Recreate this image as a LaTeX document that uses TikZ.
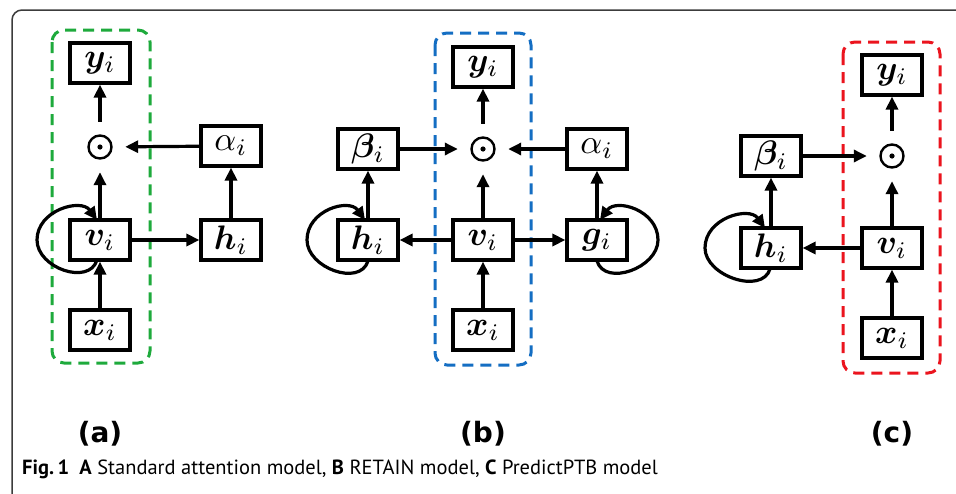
\documentclass[tikz,border=0pt]{standalone}
\usepackage{amsmath,bm,graphicx}
\usepackage{fontspec}
\newfontfamily\labfont{DejaVu Sans}
\newfontfamily\capfont{PT Sans}
\usetikzlibrary{arrows.meta,calc}
\definecolor{grpgreen}{RGB}{30,170,60}
\definecolor{grpblue}{RGB}{20,110,195}
\definecolor{grpred}{RGB}{235,20,30}
\definecolor{framegray}{RGB}{60,60,60}
\newcommand{\mlab}[1]{\scalebox{3.4}{$#1$}}
\begin{document}
\begin{tikzpicture}[x=1pt,y=-1pt,
 box/.style={draw,line width=3.2pt,minimum width=60pt,minimum height=40pt,inner sep=0pt},
 odot/.style={circle,minimum size=50pt,inner sep=0pt,path picture={\draw[line width=2.4pt](path picture bounding box.center) circle (11.5pt); \fill (path picture bounding box.center) circle (2.6pt);}},
 arr/.style={line width=3.2pt,-{Triangle[length=13pt,width=12pt]}},
 grp/.style={line width=3pt,dash pattern=on 11pt off 7pt,rounded corners=12pt},
 lab/.style={font=\labfont\bfseries\fontsize{28}{32}\selectfont},
]
\useasboundingbox (0,0) rectangle (956,493);
\fill[white] (0,0) rectangle (956,493);
% frame
\draw[framegray,line width=1.5pt,rounded corners=10pt] (958,10) -- (12,10) -- (12,495);

% ---------- (a) ----------
\draw[grp,grpgreen] (52,30) rectangle (150,363);
\node[box] (ya) at (100,63) {\mlab{\boldsymbol{y}_i}};
\node[odot] (oa) at (100,147) {};
\node[box] (aa) at (231,146) {\mlab{\alpha_i}};
\node[box] (va) at (100,240) {\mlab{\boldsymbol{v}_i}};
\node[box] (ha) at (231,240) {\mlab{\boldsymbol{h}_i}};
\node[box] (xa) at (100,330) {\mlab{\boldsymbol{x}_i}};
\draw[arr] (xa) -- (va);
\draw[arr] (va) -- (oa);
\draw[arr] (oa) -- (ya);
\draw[arr] (va) -- (ha);
\draw[arr] (ha) -- (aa);
\draw[arr] (aa) -- (oa);
\draw[arr] ($(va)+(-3,20)$) .. controls +(-8,26) and +(0,28) .. ($(va)+(-63,0)$)
  .. controls +(0,-30) and +(-16,-22) .. ($(va)+(-3,-20)$);

% ---------- (b) ----------
\draw[grp,grpblue] (435,33) rectangle (531,365);
\node[box] (yb) at (483,67) {\mlab{\boldsymbol{y}_i}};
\node[odot] (ob) at (483,149) {};
\node[box] (bb) at (368,149) {\mlab{\boldsymbol{\beta}_i}};
\node[box] (ab) at (597,149) {\mlab{\alpha_i}};
\node[box] (hb) at (368,240) {\mlab{\boldsymbol{h}_i}};
\node[box] (vb) at (483,240) {\mlab{\boldsymbol{v}_i}};
\node[box] (gb) at (597,240) {\mlab{\boldsymbol{g}_i}};
\node[box] (xb) at (483,330) {\mlab{\boldsymbol{x}_i}};
\draw[arr] (xb) -- (vb);
\draw[arr] (vb) -- (ob);
\draw[arr] (ob) -- (yb);
\draw[arr] (vb) -- (hb);
\draw[arr] (vb) -- (gb);
\draw[arr] (hb) -- (bb);
\draw[arr] (gb) -- (ab);
\draw[arr] (bb) -- (ob);
\draw[arr] (ab) -- (ob);
\draw[arr] ($(hb)+(0,21)$) .. controls +(-8,26) and +(0,28) .. ($(hb)+(-61,0)$)
  .. controls +(0,-30) and +(-16,-22) .. ($(hb)+(-3,-20)$);
\draw[arr] ($(gb)+(0,21)$) .. controls +(8,26) and +(0,28) .. ($(gb)+(61,0)$)
  .. controls +(0,-30) and +(16,-22) .. ($(gb)+(3,-20)$);

% ---------- (c) ----------
\draw[grp,grpred] (843,42) rectangle (940,373);
\node[box] (yc) at (892,75) {\mlab{\boldsymbol{y}_i}};
\node[odot] (oc) at (892,156) {};
\node[box] (bc) at (771,156) {\mlab{\boldsymbol{\beta}_i}};
\node[box] (hc) at (771,248) {\mlab{\boldsymbol{h}_i}};
\node[box] (vc) at (892,248) {\mlab{\boldsymbol{v}_i}};
\node[box] (xc) at (892,338) {\mlab{\boldsymbol{x}_i}};
\draw[arr] (xc) -- (vc);
\draw[arr] (vc) -- (oc);
\draw[arr] (oc) -- (yc);
\draw[arr] (vc) -- (hc);
\draw[arr] (hc) -- (bc);
\draw[arr] (bc) -- (oc);
\draw[arr] ($(hc)+(-1,21)$) .. controls +(-8,26) and +(0,28) .. ($(hc)+(-66,0)$)
  .. controls +(0,-30) and +(-16,-22) .. ($(hc)+(-6,-20)$);

% labels
\node[lab] (la) at (100,434) {(a)};
\node[lab] (lb) at (483,434) {(b)};
\node[lab] (lc) at (892,434) {(c)};

% caption
\node[anchor=base west,inner sep=0pt,font=\capfont\fontsize{20.5}{24}\selectfont] (cap) at (22,474)
 {\textbf{Fig.\,1}\enspace\textbf{A} Standard attention model, \textbf{B} RETAIN model, \textbf{C} PredictPTB model};
\end{tikzpicture}
\end{document}
